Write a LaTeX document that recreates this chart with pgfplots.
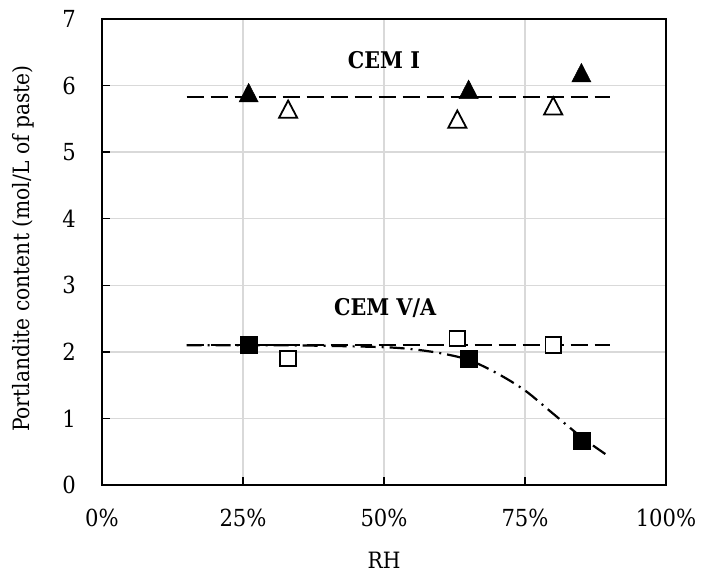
\documentclass[border=0pt]{standalone}
\usepackage{fontspec}
\setmainfont{DejaVu Serif Condensed}
\usepackage{pgfplots}
\pgfplotsset{compat=1.18}
\definecolor{gridgray}{HTML}{D9D9D9}

\begin{document}
\fontsize{22.5pt}{27pt}\selectfont
\begin{tikzpicture}
\path (0,0) rectangle (704pt,581pt);
\begin{axis}[
  at={(102pt,96pt)}, anchor=south west,
  scale only axis, width=564pt, height=466pt,
  xmin=0, xmax=100, ymin=0, ymax=7,
  xtick={0,25,50,75,100}, ytick={0,1,2,3,4,5,6,7},
  /pgf/number format/assume math mode=true,
  xticklabel={\pgfmathprintnumber{\tick}\%},
  grid=major,
  major grid style={gridgray, line width=1.4pt},
  axis line style={black, line width=2pt},
  tick style={black, line width=1.4pt},
  major tick length=8pt, tick align=inside, tickpos=left,
  every tick label/.append style={inner sep=0pt, font=\fontsize{23.5pt}{28pt}\selectfont},
  xticklabel shift=24pt,
  yticklabel shift=26pt,
  xlabel={RH},
  ylabel={Portlandite content (mol/L of paste)},
  every axis x label/.style={at={(axis description cs:0.5,-0.161)}, anchor=center},
  every axis y label/.style={at={(axis description cs:-0.140,0.507)}, rotate=90, anchor=center},
  clip=false,
]
% mean levels
\addplot[black, line width=2.2pt, dash pattern=on 17pt off 7pt] coordinates {(15,5.83) (90,5.83)};
\addplot[black, line width=2.2pt, dash pattern=on 17pt off 7pt] coordinates {(15,2.10) (90,2.10)};
% carbonation trend for CEM V/A
\addplot[black, line width=2.2pt, dash pattern=on 15pt off 6pt on 2pt off 6pt, smooth] coordinates {
  (15,2.10) (30,2.10) (40,2.09) (50,2.07) (55,2.04) (60,1.98) (65,1.88)
  (70,1.68) (75,1.42) (80,1.07) (85,0.72) (89.5,0.45)};
% CEM I
\addplot[only marks, mark=triangle*, mark size=11pt,
  mark options={fill=black, draw=black, line width=0.5pt, yscale=1.12, yshift=-3.1pt}]
  coordinates {(26,5.90) (65,5.95) (85,6.20)};
\addplot[only marks, mark=triangle*, mark size=10.5pt,
  mark options={fill=white, draw=black, line width=1.8pt, yscale=1.1, yshift=-2.9pt}]
  coordinates {(33,5.65) (63,5.50) (80,5.70)};
% CEM V/A
\addplot[only marks, mark=square*, mark size=8.5pt,
  mark options={fill=black, draw=black, line width=0.5pt}]
  coordinates {(26,2.10) (65,1.90) (85,0.67)};
\addplot[only marks, mark=square*, mark size=7.8pt,
  mark options={fill=white, draw=black, line width=1.8pt}]
  coordinates {(33,1.90) (63,2.20) (80,2.10)};
\node[anchor=base, font=\bfseries\fontsize{23pt}{27pt}\selectfont] at (axis cs:50,6.26) {CEM I};
\node[anchor=base, font=\bfseries\fontsize{23pt}{27pt}\selectfont] at (axis cs:50.2,2.54) {CEM V/A};
\end{axis}
\end{tikzpicture}
\end{document}
